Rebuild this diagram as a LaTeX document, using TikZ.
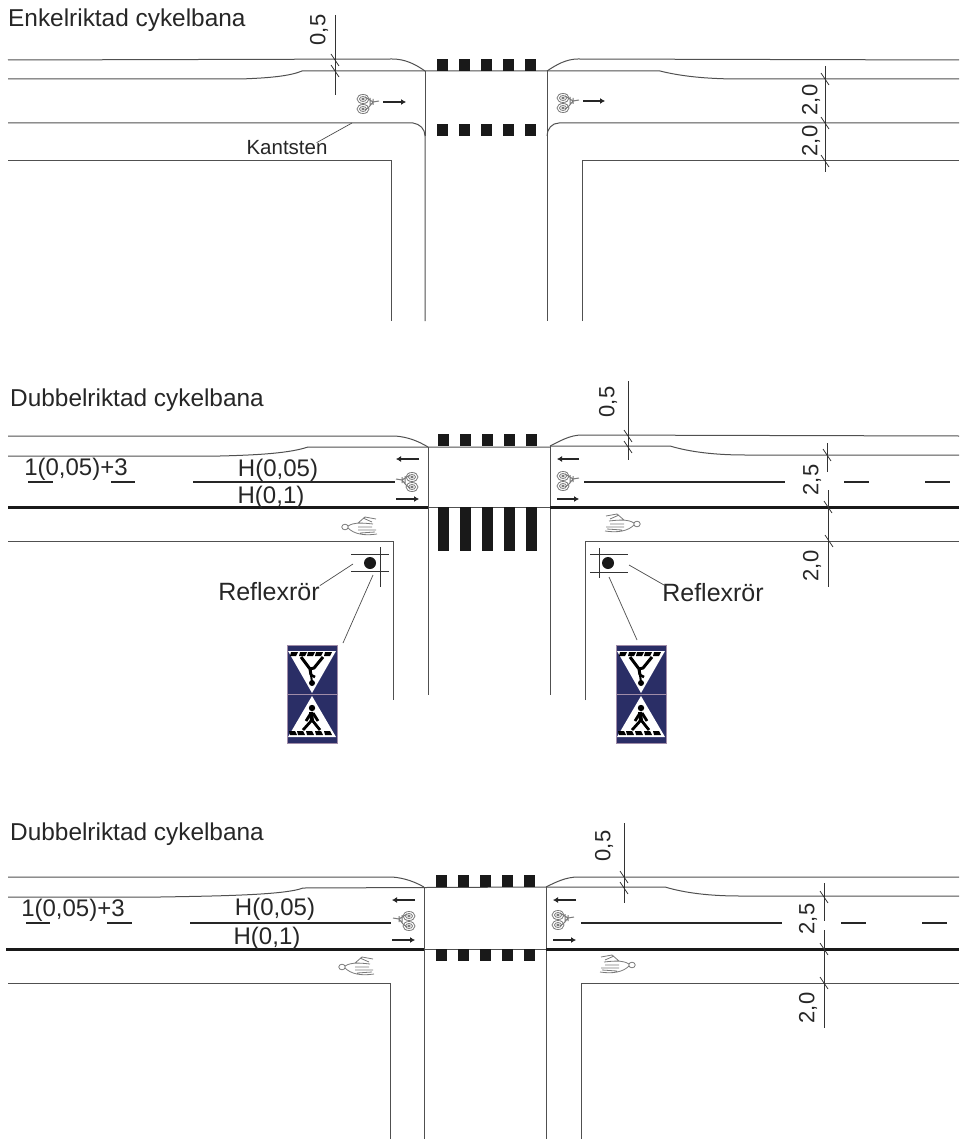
\documentclass[tikz,border=0pt]{standalone}
\usepackage{fontspec}
\setmainfont{Liberation Sans}
\usetikzlibrary{calc,arrows.meta}
\definecolor{skyltbla}{HTML}{2A2E66}
\definecolor{skyltkant}{HTML}{A08CA8}
\definecolor{ritgra}{HTML}{505050}
\definecolor{symbolgra}{HTML}{7A7A7A}
\begin{document}
\begin{tikzpicture}[
      x=1pt,y=-1pt,
      kant/.style={draw=ritgra,line width=1pt},
      linje/.style={draw=black!85,line width=2pt},
      grov/.style={draw=black!90,line width=3pt},
      matt/.style={draw=black!80,line width=0.8pt},
      ledare/.style={draw=black!70,line width=0.7pt},
      ruta/.style={fill=black!90,draw=none},
      pil/.style={draw=black!85,line width=1.8pt,-{Latex[length=5pt,width=6pt]}},
      rubrik/.style={anchor=west,inner sep=0pt,text=black!85,font=\fontsize{24.4}{24.4}\selectfont},
      etikett/.style={inner sep=0pt,text=black!85,font=\fontsize{24}{24}\selectfont},
      reflex/.style={inner sep=0pt,text=black!85,font=\fontsize{25}{25}\selectfont},
      mattal/.style={inner sep=0pt,rotate=90,text=black!85,font=\fontsize{22}{22}\selectfont},
      cykelsym/.pic={
        \draw[symbolgra,line width=0.8pt] (-5,-5) circle (6 and 4.5) (-5,-5) circle (3.5 and 2.5) (-5,-5) circle (1.2 and 0.8)
          (-5,5) circle (6 and 4.5) (-5,5) circle (3.5 and 2.5) (-5,5) circle (1.2 and 0.8);
        \draw[symbolgra,line width=1pt] (-3,-7) -- (5,-2) -- (11,-3) (5,-2) -- (1,3) -- (-3,6) (5,-5) -- (5,1) (2,-6) -- (2,2);
      },
      gangsym/.pic={
        \draw[symbolgra,line width=0.8pt] (-15,0) circle (3.2 and 2.8)
          (-12,-1) .. controls (-6,-5) and (4,-4) .. (13,-3) (-12,1) .. controls (-6,7) and (4,9) .. (17,7)
          (-2,3) -- (16,3) (-2,0) -- (12,0) (-2,-4) -- (5,-10) -- (16,-8) (0,6) -- (15,5) (3,-9) -- (12,-5);
      },
      cykelsymv/.pic={
        \draw[symbolgra,line width=0.8pt] (4,-5) circle (6 and 4.5) (4,-5) circle (3.5 and 2.5) (4,-5) circle (1.2 and 0.8)
          (4,5) circle (6 and 4.5) (4,5) circle (3.5 and 2.5) (4,5) circle (1.2 and 0.8);
        \draw[symbolgra,line width=1pt] (2,-7) -- (-6,-2) -- (-12,-3) (-6,-2) -- (-2,3) -- (2,6) (-6,-5) -- (-6,1) (-3,-6) -- (-3,2);
      },
      skylt/.pic={
        % ovre skylten
        \fill[skyltbla,draw=skyltkant,line width=0.8pt] (-25,-49) rectangle (25,0);
        \fill[white] (-24,-43) -- (24,-43) -- (0,-1) -- cycle;
        \foreach \a in {-21,-12,-4,4,13} \fill[black] (\a,-42) -- +(7,0) -- +(5,4) -- +(-1,4) -- cycle;
        \draw[black,line width=3pt] (-11,-37) -- (-2,-25) -- (-1,-19) (11,-37) -- (2,-26) -- (-2,-25);
        \draw[black,line width=2.5pt] (-1,-19) -- (3,-17);
        \fill[black] (0,-11) circle (3);
        \draw[black,line width=2pt] (-1,-19) -- (0,-12);
        % nedre skylten
        \fill[skyltbla,draw=skyltkant,line width=0.8pt] (-25,0) rectangle (25,49);
        \fill[white] (0,2) -- (24,43) -- (-24,43) -- cycle;
        \foreach \a in {-22,-14,-5,4,13} \fill[black] (\a,41) -- +(7,0) -- +(5,-4) -- +(-1,-4) -- cycle;
        \fill[black] (0,14) circle (3.2);
        \draw[black,line width=4pt] (-1,18) -- (0,27);
        \draw[black,line width=2.8pt] (0,26) -- (-9,36) (0,26) -- (8,36) (-1,19) -- (-6,27) (1,19) -- (6,27);
      },
      ]

    \useasboundingbox (0,0) rectangle (959,1139);

    % Enkelriktad
    \node[rubrik] (rubrik1) at (8,20) {Enkelriktad cykelbana};
    \draw[kant] (8,60) -- (392,59) .. controls (405,59) and (415,64) .. (425,71);
    \draw[kant] (8,79) -- (240,79) .. controls (270,78) and (290,76) .. (302,71) -- (547,71);
    \draw[kant] (547,71) .. controls (556,65) and (566,59) .. (578,59) -- (959,60);
    \draw[kant] (547,71) -- (660,71) .. controls (680,76) and (705,79) .. (740,79) -- (959,79);
    \draw[kant] (8,123) -- (413,123) .. controls (420,124) and (425,129) .. (425,136) -- (425,321);
    \draw[kant] (425,71) -- (425,136);
    \draw[kant] (547,71) -- (547,321);
    \draw[kant] (547,136) .. controls (547,129) and (552,123) .. (559,123) -- (959,123);
    \draw[kant] (8,161) -- (391,161) -- (391,321);
    \draw[kant] (582,321) -- (582,161) -- (959,161);
    \foreach \x in {437,459,481,503,525} {
      \fill[ruta] (\x,59) rectangle +(11,12);
      \fill[ruta] (\x,124) rectangle +(11,12);
    }
    \draw[matt] (335,15) -- (335,95);
    \draw[matt] (825,66) -- (825,172);
    \foreach \p in {(335,60),(335,71),(825,79),(825,123),(825,161)}
      \draw[matt] \p +(-4,-6) -- +(4,6);
    \node[mattal] (matt1a) at (319,30) {0,5};
    \node[mattal] (matt1b) at (811,100) {2,0};
    \node[mattal] (matt1c) at (811,141) {2,0};
    \pic at (368,104) {cykelsym};
    \pic at (568,103) {cykelsym};
    \draw[pil] (383,102) -- (406,102);
    \draw[pil] (583,101) -- (605,101);
    \node[inner sep=0pt,text=black!85,font=\fontsize{20.5}{20.5}\selectfont] (kantsten) at (287,148) {Kantsten};
    \coordinate (kantspets) at (352,123);
    \draw[ledare] (kantsten.north east) ++(-11,2) -- (kantspets);

    % Dubbelriktad, med skyltar
    \node[rubrik] (rubrik2) at (10,400) {Dubbelriktad cykelbana};
    \draw[kant] (8,436) -- (395,436) .. controls (408,437) and (418,441) .. (428,447);
    \draw[kant] (8,456) -- (220,456) .. controls (260,455) and (290,453) .. (308,447) -- (550,447);
    \draw[kant] (550,446) .. controls (560,441) and (570,435) .. (582,435) -- (959,436);
    \draw[kant] (550,446) -- (670,446) .. controls (690,452) and (715,455) .. (745,455) -- (959,455);
    \draw[kant] (428,447) -- (428,695);
    \draw[kant] (550,446) -- (550,695);
    \draw[kant] (428,507) -- (550,507);
    \draw[kant] (8,541) -- (393,541) -- (393,700);
    \draw[kant] (585,700) -- (585,541) -- (959,541);
    \draw[grov] (8,507) -- (428,507);
    \draw[grov] (550,507) -- (959,507);
    \draw[linje] (193,482) -- (395,482);
    \draw[linje] (584,482) -- (785,482);
    \draw[linje] (844,482) -- (869,482);
    \draw[linje] (925,482) -- (950,482);
    \draw[linje] (28,482) -- (53,482);
    \draw[linje] (111,482) -- (135,482);
    \foreach \x in {438,460,482,504,526} {
      \fill[ruta] (\x,434) rectangle +(11,12);
      \fill[ruta] (\x,507) rectangle +(11,44);
    }
    \draw[matt] (628,381) -- (628,460);
    \draw[matt] (827,443) -- (827,472);
    \draw[matt] (828,490) -- (828,587);
    \foreach \p in {(628,436),(628,447),(827,455),(828,507),(829,541)}
      \draw[matt] \p +(-4,-6) -- +(4,6);
    \node[mattal] (matt2a) at (608,402) {0,5};
    \node[mattal] (matt2b) at (812,480) {2,5};
    \node[mattal] (matt2c) at (812,566) {2,0};
    \node[etikett] (text2a) at (76,469) {1(0,05)+3};
    \node[etikett] (text2b) at (278,470) {H(0,05)};
    \node[etikett] (text2c) at (271,497) {H(0,1)};
    \draw[pil] (419,459) -- (396,459);
    \draw[pil] (396,499) -- (419,499);
    \draw[pil] (579,459) -- (557,459);
    \draw[pil] (557,499) -- (579,499);
    \pic at (408,482) {cykelsymv};
    \pic at (568,481) {cykelsym};
    \pic at (360,527) {gangsym};
    \pic[xscale=-1] at (622,524) {gangsym};
    % reflexror
    \draw[matt] (351,554) -- (389,554) (351,571) -- (389,571) (380,547) -- (380,587);
    \draw[matt] (590,554) -- (628,554) (590,572) -- (628,572) (599,548) -- (599,578);
    \fill[black!90] (370,563) circle (6);
    \fill[black!90] (608,563) circle (6);
    \pic at (312,694) {skylt};
    \pic at (641,694) {skylt};
    \node[reflex] (reflexv) at (269,592) {Reflexrör};
    \node[reflex] (reflexh) at (713,593) {Reflexrör};
    \coordinate (punktv) at (353,564);
    \coordinate (punkth) at (629,565);
    \coordinate (skyltv) at (343,643);
    \coordinate (skylth) at (637,640);
    \coordinate (fotv) at (373,575);
    \coordinate (foth) at (609,577);
    \draw[ledare] (reflexv.north east) ++(0,3) -- (punktv);
    \draw[ledare] (reflexh.north west) ++(3,2) -- (punkth);
    \draw[ledare] (fotv) -- (skyltv);
    \draw[ledare] (foth) -- (skylth);

    % Dubbelriktad
    \node[rubrik] (rubrik3) at (10,834) {Dubbelriktad cykelbana};
    \draw[kant] (8,877) -- (392,877) .. controls (405,878) and (415,882) .. (424,887);
    \draw[kant] (8,897) -- (160,897) .. controls (220,896) and (285,895) .. (303,888) -- (546,887);
    \draw[kant] (546,887) .. controls (556,882) and (566,877) .. (578,877) -- (959,877);
    \draw[kant] (546,887) -- (665,887) .. controls (685,893) and (710,896) .. (740,896) -- (959,896);
    \draw[kant] (424,887) -- (424,1139);
    \draw[kant] (546,887) -- (546,1139);
    \draw[kant] (424,949) -- (546,949);
    \draw[kant] (8,983) -- (390,983) -- (390,1139);
    \draw[kant] (581,1139) -- (581,983) -- (959,983);
    \draw[grov] (6,949) -- (424,949);
    \draw[grov] (546,949) -- (959,949);
    \draw[linje] (190,923) -- (391,923);
    \draw[linje] (581,923) -- (782,923);
    \draw[linje] (841,923) -- (866,923);
    \draw[linje] (922,923) -- (947,923);
    \draw[linje] (26,923) -- (50,923);
    \draw[linje] (107,923) -- (132,923);
    \foreach \x in {436,458,480,502,524} {
      \fill[ruta] (\x,875) rectangle +(11,12);
      \fill[ruta] (\x,949) rectangle +(11,12);
    }
    \draw[matt] (624,823) -- (624,903);
    \draw[matt] (824,883) -- (824,921);
    \draw[matt] (824,930) -- (824,1028);
    \foreach \p in {(624,877),(624,888),(824,897),(824,949),(824,983)}
      \draw[matt] \p +(-4,-6) -- +(4,6);
    \node[mattal] (matt3a) at (604,846) {0,5};
    \node[mattal] (matt3b) at (808,919) {2,5};
    \node[mattal] (matt3c) at (808,1008) {2,0};
    \node[etikett] (text3a) at (73,910) {1(0,05)+3};
    \node[etikett] (text3b) at (275,909) {H(0,05)};
    \node[etikett] (text3c) at (267,938) {H(0,1)};
    \draw[pil] (415,900) -- (392,900);
    \draw[pil] (392,940) -- (415,940);
    \draw[pil] (576,900) -- (553,900);
    \draw[pil] (553,940) -- (576,940);
    \pic at (405,921) {cykelsymv};
    \pic at (563,920) {cykelsym};
    \pic at (357,967) {gangsym};
    \pic[xscale=-1] at (617,965) {gangsym};

  \end{tikzpicture}
\end{document}
